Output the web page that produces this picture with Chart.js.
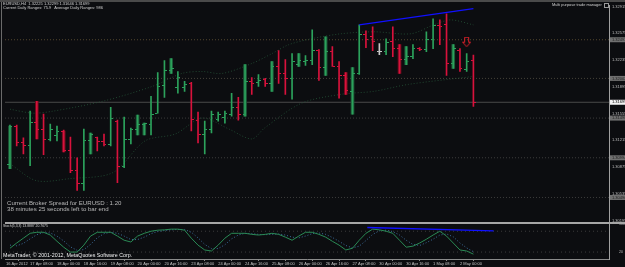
<!DOCTYPE html>
<html>
<head>
<meta charset="utf-8">
<script src="https://cdn.jsdelivr.net/npm/chart.js@4.4.0/dist/chart.umd.min.js"></script>
<style>
  html, body { margin: 0; padding: 0; background: #0c0d10; }
  #wrap { position: relative; width: 625px; height: 267px; overflow: hidden; background: #0c0d10; }
  #c { position: absolute; left: 0; top: 0; }
  .t { position: absolute; white-space: pre; font-family: 'Liberation Sans', Arial, sans-serif; color: #d0d0d0; line-height: 1; }
  .box { position: absolute; left: 604px; top: 3px; width: 3px; height: 3px; border: 1px solid #9a9a9a; }
</style>
</head>
<body>
<div id="wrap">
  <canvas id="c" width="625" height="267"></canvas>
  <div class="t" style="left:3px;top:2.1px;font-size:4px">EURUSD,H4  1.32225 1.32299 1.31646 1.31699</div>
  <div class="t" style="left:3px;top:6.1px;font-size:4px">Current Daily Ranges: 75.9   Average Daily Ranges: 986</div>
  <div class="t" style="left:552px;top:2.9px;font-size:3.9px">Multi purpose trade manager</div>
  <div class="box"></div>
  <div class="t" style="left:7px;top:199.6px;font-size:6.1px;color:#b8b8b8">Current Broker Spread for EURUSD : 1.20</div>
  <div class="t" style="left:7px;top:206.3px;font-size:6.1px;color:#b8b8b8">38 minutes 25 seconds left to bar end</div>
  <div class="t" style="left:3px;top:225.1px;font-size:3.4px">Stoch(5,3,3) 13.8887 20.7675</div>
  <div class="t" style="left:3px;top:253.1px;font-size:5.3px;color:#f0f0f0">MetaTrader, © 2001-2012, MetaQuotes Software Corp.</div>
</div>
<script>
// EURUSD H4, 16 Apr 20:00 .. 2 May 08:00 (70 bars)
var barOpen = [1.30906,1.31397,1.31183,1.31145,1.31447,1.31347,1.31221,1.31271,1.31334,1.31082,
  1.30830,1.30666,1.31208,1.31246,1.31195,1.31158,1.31460,1.30880,1.31221,1.31359,
  1.31422,1.31422,1.31561,1.31914,1.32103,1.31888,1.31888,1.31939,1.31473,1.31296,
  1.31359,1.31485,1.31510,1.31548,1.31636,1.31548,1.31964,1.31951,1.31989,1.31939,
  1.32153,1.32065,1.32002,1.32178,1.32216,1.32229,1.32355,1.32140,1.32342,1.32153,
  1.32040,1.31838,1.32065,1.32556,1.32531,1.32342,1.32342,1.32468,1.32380,1.32241,
  1.32279,1.32380,1.32367,1.32493,1.32670,1.32682,1.32191,1.32355,1.32115,1.32225];
var barHigh = [1.31410,1.31410,1.31246,1.31586,1.31712,1.31548,1.31422,1.31397,1.31347,1.31258,
  1.30994,1.31359,1.31309,1.31258,1.31296,1.31636,1.31473,1.31510,1.31372,1.31536,
  1.31435,1.31775,1.32077,1.32229,1.32254,1.32090,1.31964,1.31951,1.31573,1.31460,
  1.31586,1.31573,1.31586,1.31813,1.31762,1.32178,1.32014,1.32052,1.32002,1.32216,
  1.32355,1.32241,1.32317,1.32317,1.32292,1.32619,1.32367,1.32531,1.32405,1.32216,
  1.32077,1.32140,1.32682,1.32607,1.32657,1.32443,1.32506,1.32657,1.32430,1.32405,
  1.32430,1.32392,1.32594,1.32758,1.32745,1.32821,1.32430,1.32380,1.32317,1.32299];
var barLow = [1.30855,1.31145,1.31044,1.30893,1.31233,1.31032,1.31208,1.31208,1.31069,1.30805,
  1.30578,1.30578,1.31044,1.31082,1.31145,1.31145,1.30679,1.30868,1.31170,1.31284,
  1.31284,1.31284,1.31561,1.31762,1.32065,1.31813,1.31838,1.31334,1.31183,1.31044,
  1.31309,1.31460,1.31435,1.31523,1.31473,1.31523,1.31800,1.31901,1.31901,1.31838,
  1.31939,1.31800,1.31737,1.32153,1.32166,1.32178,1.31977,1.32040,1.32153,1.31750,
  1.31800,1.31548,1.32052,1.32392,1.32355,1.32304,1.32304,1.32279,1.32065,1.32178,
  1.32254,1.32355,1.32342,1.32380,1.32430,1.32040,1.32128,1.32090,1.32090,1.31646];
var barClose = [1.31397,1.31183,1.31145,1.31447,1.31347,1.31221,1.31347,1.31334,1.31082,1.30830,
  1.30666,1.31208,1.31284,1.31195,1.31158,1.31498,1.30880,1.31221,1.31359,1.31422,
  1.31435,1.31548,1.31901,1.32103,1.32128,1.32014,1.31926,1.31485,1.31296,1.31359,
  1.31548,1.31548,1.31561,1.31636,1.31548,1.31964,1.31939,1.31977,1.31939,1.32153,
  1.32065,1.32002,1.32216,1.32229,1.32229,1.32355,1.32140,1.32342,1.32153,1.32040,
  1.31851,1.32065,1.32556,1.32493,1.32468,1.32342,1.32455,1.32380,1.32241,1.32279,
  1.32380,1.32367,1.32493,1.32670,1.32657,1.32191,1.32380,1.32128,1.32216,1.31699];

// darker wide bodies drawn under some bars
var shadeIdx  = [0, 4, 8, 12, 19, 20, 24, 35, 39, 43, 47, 50, 51, 58, 59, 66];
var shadeHigh = [1.31397,1.31712,1.31334,1.31309,1.31536,1.31435,1.32254,1.32178,1.32216,1.32317,1.32531,1.32077,1.32140,1.32430,1.32405,1.32430];
var shadeLow  = [1.30855,1.31233,1.31069,1.31044,1.31284,1.31284,1.32065,1.31523,1.31838,1.32153,1.32040,1.31800,1.31548,1.32065,1.32178,1.32128];

// faint band lines (read at a few bars)
var upperIdx = [0, 3.4, 6.4, 13.8, 21.2, 25.6, 28.6, 31.6, 36, 39, 41.5, 44.9, 49.3, 54.2, 59.7, 63.1, 65.6, 69];
var upperVal = [1.31611,1.31561,1.31586,1.31712,1.31901,1.32065,1.32090,1.32065,1.32191,1.32317,1.32430,1.32506,1.32569,1.32594,1.32569,1.32682,1.32745,1.32682];
var lowerIdx = [0, 3.9, 8.9, 15.3, 20.1, 24.6, 28.6, 32.6, 36, 37.9, 43.4, 49.3, 54.2, 59.3, 69];
var lowerVal = [1.30918,1.30704,1.30729,1.30805,1.31208,1.31296,1.31498,1.31359,1.31233,1.31372,1.31687,1.31800,1.31838,1.31926,1.32027];

// Stoch(5,3,3)
var stochMain = [31,46,60,74,77,77,69,51,34,20, 20,40,66,77,77,77,66,54,49,66,
  74,80,83,84,86,86,83,60,40,26, 23,40,60,74,74,74,71,69,71,74,
  71,63,54,66,77,77,71,63,51,40, 26,31,54,74,86,84,80,74,54,34,
  37,46,57,69,80,66,46,26,23,14];
var stochSignal = [40,38,45,58,70,76,75,66,52,35, 25,27,42,61,73,77,74,66,56,56,
  63,73,79,82,84,85,85,77,61,42, 30,30,41,58,69,74,73,71,70,71,
  72,69,63,61,66,73,75,71,62,51, 39,32,37,53,71,81,83,79,69,54,
  42,39,47,57,69,72,64,46,32,21];

// horizontal levels, bid, trend lines, arrow
var levelPrices = [1.32493, 1.32002, 1.31498, 1.30994, 1.30490];
var levelColors = ['#54472f', '#46433a', '#3c3c3c', '#3c3c3c', '#3c3c3c'];
var bidPrice = 1.31699;
var trendIdx = [52, 69];
var trendPrice = [1.32682, 1.32888];
var stochTrendIdx = [53.2, 72];
var stochTrendVal = [90.6, 80.9];
var arrowIdx = 68, arrowPrice = 1.32462;

// axis labels
var priceTicks = [1.32915,1.32745,1.32575,1.32405,1.32235,1.32065,1.31895,1.31725,1.31555,
  1.31385,1.31215,1.31045,1.30875,1.30705,1.30535,1.30365,1.30195];
var stochTicks = [100, 80, 20, 0];
var timeTickIdx = [-0.6, 3, 7, 11, 15, 19, 23, 27, 31, 35, 39, 43, 47, 51, 55, 59, 63, 67];
var timeLabels = ['16 Apr 2012','17 Apr 08:00','18 Apr 00:00','18 Apr 16:00','19 Apr 08:00',
  '20 Apr 00:00','20 Apr 16:00','23 Apr 08:00','24 Apr 00:00','24 Apr 16:00','25 Apr 08:00',
  '26 Apr 00:00','26 Apr 16:00','27 Apr 08:00','30 Apr 00:00','30 Apr 16:00','1 May 08:00','2 May 00:00'];

var xMin = -0.74, xMax = 89.19;
var priceMin = 1.301622, priceMax = 1.329342;

var UP = '#2ca25c', DOWN = '#d8123c', DOJI = '#c8c8c8';
var UP_DARK = '#1d5a38', DOWN_DARK = '#6e0c1e';
var FONT = 'Liberation Sans';

var idx = barOpen.map(function (v, i) { return i; });
function dir(i) {
  if (barClose[i] > barOpen[i]) return 'up';
  if (barClose[i] < barOpen[i]) return 'down';
  return 'doji';
}
var colorOf = { up: UP, down: DOWN, doji: DOJI };

// small images for the open (left) and close (right) ticks of the OHLC bars
function tickImg(color, left) {
  var cv = document.createElement('canvas');
  cv.width = 5; cv.height = 1;
  var g = cv.getContext('2d');
  g.fillStyle = color;
  g.fillRect(left ? 0 : 3, 0, 2, 1);
  return cv;
}
var openImg = {}, closeImg = {};
['up', 'down', 'doji'].forEach(function (k) {
  openImg[k] = tickImg(colorOf[k], true);
  closeImg[k] = tickImg(colorOf[k], false);
});

function arrowImg() {
  var cv = document.createElement('canvas');
  cv.width = 9; cv.height = 11;
  var g = cv.getContext('2d');
  g.strokeStyle = '#e0202a';
  g.lineWidth = 1;
  g.beginPath();
  g.moveTo(2.5, 0.5); g.lineTo(6.5, 0.5); g.lineTo(6.5, 5.5); g.lineTo(8.5, 5.5);
  g.lineTo(4.5, 10); g.lineTo(0.5, 5.5); g.lineTo(2.5, 5.5); g.closePath();
  g.stroke();
  return cv;
}

var datasets = [];

levelPrices.forEach(function (p, k) {
  datasets.push({
    type: 'line', data: [{ x: xMin, y: p }, { x: xMax, y: p }],
    borderColor: levelColors[k], borderWidth: 1, borderDash: [1, 2],
    pointRadius: 0, order: 9, yAxisID: 'y'
  });
});
datasets.push({
  type: 'line', data: [{ x: xMin, y: bidPrice }, { x: xMax, y: bidPrice }],
  borderColor: '#4a4a4a', borderWidth: 1, pointRadius: 0, order: 9, yAxisID: 'y'
});
datasets.push({
  type: 'line', yAxisID: 'y', order: 8, borderColor: 'rgba(38,84,56,0.8)', borderWidth: 1,
  borderDash: [1, 2], pointRadius: 0, tension: 0.3,
  data: upperIdx.map(function (x, k) { return { x: x, y: upperVal[k] }; })
});
datasets.push({
  type: 'line', yAxisID: 'y', order: 8, borderColor: 'rgba(38,84,56,0.8)', borderWidth: 1,
  borderDash: [1, 2], pointRadius: 0, tension: 0.3,
  data: lowerIdx.map(function (x, k) { return { x: x, y: lowerVal[k] }; })
});

datasets.push({
  type: 'bar', yAxisID: 'y', grouped: false, order: 7, barThickness: 3,
  data: shadeIdx.map(function (i, k) { return { x: i, y: [shadeLow[k], shadeHigh[k]] }; }),
  backgroundColor: shadeIdx.map(function (i) { return dir(i) === 'down' ? DOWN_DARK : UP_DARK; })
});
datasets.push({
  type: 'bar', yAxisID: 'y', grouped: false, order: 5, barThickness: 1,
  data: idx.map(function (i) { return { x: i, y: [barLow[i], barHigh[i]] }; }),
  backgroundColor: idx.map(function (i) { return colorOf[dir(i)]; })
});
datasets.push({
  type: 'scatter', yAxisID: 'y', order: 4, pointRadius: 2,
  data: idx.map(function (i) { return { x: i, y: barOpen[i] }; }),
  pointStyle: idx.map(function (i) { return openImg[dir(i)]; })
});
datasets.push({
  type: 'scatter', yAxisID: 'y', order: 4, pointRadius: 2,
  data: idx.map(function (i) { return { x: i, y: barClose[i] }; }),
  pointStyle: idx.map(function (i) { return closeImg[dir(i)]; })
});
datasets.push({
  type: 'line', yAxisID: 'y', order: 2, borderColor: '#1010ff', borderWidth: 1.4, pointRadius: 0,
  data: trendIdx.map(function (x, k) { return { x: x, y: trendPrice[k] }; })
});
datasets.push({
  type: 'scatter', yAxisID: 'y', order: 2, pointRadius: 4, pointStyle: arrowImg(),
  data: [{ x: arrowIdx, y: arrowPrice }]
});

// stochastic pane
[20, 80].forEach(function (v) {
  datasets.push({
    type: 'line', yAxisID: 'ys', order: 9, borderColor: '#3c3c3c', borderWidth: 1, borderDash: [1, 3],
    pointRadius: 0, data: [{ x: xMin, y: v }, { x: xMax, y: v }]
  });
});
datasets.push({
  type: 'line', yAxisID: 'ys', order: 3, borderColor: '#3d6e9c', borderWidth: 1, borderDash: [1, 2],
  pointRadius: 0, tension: 0,
  data: idx.map(function (i) { return { x: i, y: stochSignal[i] }; })
});
datasets.push({
  type: 'line', yAxisID: 'ys', order: 2, borderColor: '#2a8a55', borderWidth: 1,
  pointRadius: 0, tension: 0,
  data: idx.map(function (i) { return { x: i, y: stochMain[i] }; })
});
datasets.push({
  type: 'line', yAxisID: 'ys', order: 1, borderColor: '#1010ff', borderWidth: 1.4, pointRadius: 0,
  data: stochTrendIdx.map(function (x, k) { return { x: x, y: stochTrendVal[k] }; })
});

// frame, pane separator and the price boxes on the right axis
var frame = {
  id: 'frame',
  afterDraw: function (chart) {
    var ctx = chart.ctx, a = chart.chartArea, ys = chart.scales.ys, y = chart.scales.y;
    ctx.save();
    ctx.fillStyle = '#4a4a4a';
    ctx.fillRect(0, 0, chart.width, 2);
    ctx.fillStyle = '#6a6a6a';
    ctx.fillRect(1, 2, 1, a.bottom - 2);
    ctx.fillStyle = '#a6a6a6';
    ctx.fillRect(a.left, Math.round(ys.top) - 1, chart.width - a.left, 2);

    ctx.font = '4px ' + FONT;
    ctx.textBaseline = 'middle';
    levelPrices.forEach(function (p) {
      var py = y.getPixelForValue(p);
      ctx.fillStyle = '#707070';
      ctx.fillRect(a.right + 1, py - 2.5, chart.width - a.right, 5);
      ctx.fillStyle = '#202020';
      ctx.fillText(p.toFixed(5), a.right + 3, py);
    });
    var by = y.getPixelForValue(bidPrice);
    ctx.fillStyle = '#f2f2f2';
    ctx.fillRect(a.right + 1, by - 2.5, chart.width - a.right, 5);
    ctx.fillStyle = '#000';
    ctx.fillText(bidPrice.toFixed(5), a.right + 3, by);
    ctx.restore();
  }
};

new Chart(document.getElementById('c'), {
  type: 'bar',
  data: { datasets: datasets },
  options: {
    responsive: false,
    animation: false,
    devicePixelRatio: 1,
    layout: { padding: { left: 2, top: 3, right: 0, bottom: 0 } },
    plugins: { legend: { display: false }, tooltip: { enabled: false } },
    scales: {
      x: {
        type: 'linear', min: xMin, max: xMax, offset: false, position: 'bottom',
        afterFit: function (s) { s.height = 8; },
        afterBuildTicks: function (s) { s.ticks = timeTickIdx.map(function (v) { return { value: v }; }); },
        grid: { display: true, drawOnChartArea: false, drawTicks: true, tickLength: 2, color: '#8a8a8a' },
        border: { display: true, color: '#8a8a8a' },
        ticks: {
          autoSkip: false, maxRotation: 0, align: 'start', padding: 0, color: '#c4c4c4',
          font: { size: 4, family: FONT },
          callback: function (v, i) { return timeLabels[i]; }
        }
      },
      y: {
        type: 'linear', position: 'right', stack: 'panes', stackWeight: 220,
        min: priceMin, max: priceMax,
        afterFit: function (s) { s.width = 16; },
        afterBuildTicks: function (s) { s.ticks = priceTicks.map(function (v) { return { value: v }; }); },
        grid: { display: true, drawOnChartArea: false, drawTicks: true, tickLength: 1, color: '#8a8a8a' },
        border: { display: true, color: '#a0a0a0' },
        ticks: {
          crossAlign: 'near', padding: 2, color: '#bcbcbc', font: { size: 4, family: FONT },
          callback: function (v) { return v.toFixed(5); }
        }
      },
      ys: {
        type: 'linear', position: 'right', stack: 'panes', stackWeight: 36,
        min: 0, max: 102.86,
        afterFit: function (s) { s.width = 16; },
        afterBuildTicks: function (s) { s.ticks = stochTicks.map(function (v) { return { value: v }; }); },
        grid: { display: false },
        border: { display: true, color: '#a0a0a0' },
        ticks: {
          crossAlign: 'near', padding: 2, color: '#bcbcbc', font: { size: 3.5, family: FONT },
          callback: function (v) { return String(v); }
        }
      }
    }
  },
  plugins: [frame]
});
</script>
</body>
</html>
